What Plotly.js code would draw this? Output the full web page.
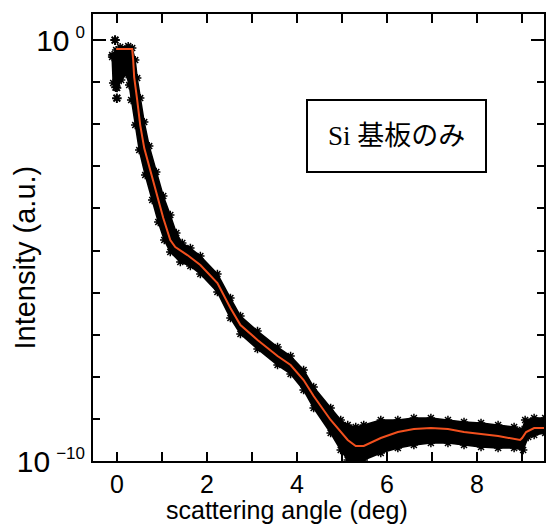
<!DOCTYPE html>
<html>
<head>
<meta charset="utf-8">
<script src="https://cdn.plot.ly/plotly-3.0.1.min.js"></script>
<style>html,body{margin:0;padding:0;background:#fff;}</style>
</head>
<body>
<div id="chart" style="width:547px;height:524px;"></div>
<script>
// Measured data band (upper / lower extent of the asterisk cloud), log10(intensity)
const bandUpperAngle = [-0.105,-0.016,0.073,0.252,0.341,0.408,0.452,0.519,0.608,0.719,0.875,1.031,1.187,1.321,1.454,1.633,1.855,2.234,2.523,2.746,3.125,3.570,3.860,4.149,4.372,4.750,4.973,5.129,5.307,5.485,5.864,6.243,6.599,6.977,7.356,7.713,8.091,8.470,8.826,9.004,9.071,9.271,9.516];
const bandUpperLog = [-0.356,-0.238,-0.166,-0.143,-0.190,-0.475,-0.903,-1.378,-1.948,-2.518,-3.135,-3.705,-4.157,-4.584,-4.822,-4.941,-5.131,-5.558,-6.128,-6.556,-6.912,-7.292,-7.506,-7.838,-8.242,-8.741,-9.026,-9.145,-9.192,-9.145,-9.026,-9.026,-8.979,-8.979,-9.026,-9.074,-9.097,-9.145,-9.192,-9.264,-9.026,-8.979,-8.979];
const bandLowerAngle = [-0.105,-0.082,0.007,0.096,0.207,0.274,0.318,0.408,0.497,0.630,0.786,0.920,1.053,1.187,1.410,1.633,1.855,2.234,2.523,2.746,3.125,3.570,3.860,4.149,4.372,4.750,4.973,5.129,5.307,5.485,5.864,6.243,6.599,6.977,7.356,7.713,8.091,8.470,8.826,9.027,9.138,9.271,9.516];
const bandLowerLog = [-0.404,-1.021,-1.140,-0.950,-0.808,-1.069,-1.425,-2.019,-2.613,-3.207,-3.800,-4.323,-4.751,-5.036,-5.273,-5.368,-5.558,-5.986,-6.603,-6.983,-7.340,-7.720,-7.933,-8.314,-8.741,-9.335,-9.739,-9.976,-10.095,-9.976,-9.810,-9.691,-9.620,-9.572,-9.572,-9.620,-9.667,-9.691,-9.691,-9.739,-9.430,-9.382,-9.335];
// isolated measured points near 0 deg
const strayAngle = [-0.04,-0.02,0.0];
const strayLog = [0.0,-1.12,-1.38];
// fitted curve
const fitAngle = [-0.016,0.341,0.363,0.385,0.452,0.519,0.608,0.742,0.898,1.031,1.187,1.298,1.566,1.855,2.234,2.523,2.746,3.125,3.570,3.860,4.149,4.372,4.750,5.129,5.307,5.485,5.864,6.243,6.599,6.977,7.356,7.713,8.091,8.470,8.960,9.004,9.093,9.271,9.516];
const fitLog = [-0.214,-0.214,-0.475,-0.879,-1.425,-2.019,-2.565,-3.088,-3.682,-4.228,-4.751,-4.917,-5.107,-5.344,-5.772,-6.366,-6.770,-7.126,-7.506,-7.720,-8.076,-8.456,-9.026,-9.501,-9.644,-9.644,-9.454,-9.311,-9.240,-9.216,-9.240,-9.311,-9.359,-9.406,-9.501,-9.454,-9.311,-9.216,-9.216];
// axis ticks
const xTickVals = [0,2,4,6,8];
const xMinorVals = [1,3,5,7,9];
const yMajorExp = [0,-10];
const yMinorExp = [-1,-2,-3,-4,-5,-6,-7,-8,-9];
const xTitle = 'scattering angle (deg)';
const yTitle = 'Intensity (a.u.)';
const labelText = 'Si 基板のみ';

const p10 = a => a.map(v => Math.pow(10, v));

const polyX = bandUpperAngle.concat(bandLowerAngle.slice().reverse());
const polyY = p10(bandUpperLog.concat(bandLowerLog.slice().reverse()));

const star = (s, w) => ({symbol:'asterisk-open', size:s, color:'#000', line:{color:'#000', width:w}});
const traces = [
  {x: polyX, y: polyY, type:'scatter', mode:'lines', fill:'toself',
   fillcolor:'#000', line:{color:'#000', width:1.5}, hoverinfo:'skip'},
  {x: bandUpperAngle, y: p10(bandUpperLog), type:'scatter', mode:'markers', marker:star(7,1.5)},
  {x: bandLowerAngle, y: p10(bandLowerLog), type:'scatter', mode:'markers', marker:star(7,1.5)},
  {x: strayAngle, y: p10(strayLog), type:'scatter', mode:'markers', marker:star(8,2)},
  {x: fitAngle, y: p10(fitLog), type:'scatter', mode:'lines',
   line:{color:'#f2501e', width:2}}
];

const fontFam = 'Liberation Sans, Arial, sans-serif';
const supText = e => '10\u2009<sup><span style="font-size:17px">' + (e < 0 ? '\u2212' + (-e) : String(e)) + '</span></sup>';
const layout = {
  width:547, height:524,
  margin:{l:93, r:3, t:14, b:63},
  paper_bgcolor:'#fff', plot_bgcolor:'#fff',
  showlegend:false,
  xaxis:{
    range:[-0.53, 9.49], showgrid:false, zeroline:false,
    showline:true, linecolor:'#000', linewidth:2, mirror:'ticks',
    ticks:'inside', ticklen:9, tickwidth:2, tickcolor:'#000',
    tickmode:'array', tickvals:xTickVals,
    minor:{tickmode:'array', tickvals:xMinorVals, ticks:'inside', ticklen:9, tickwidth:2, tickcolor:'#000', showgrid:false},
    tickfont:{family:fontFam, size:25, color:'#000'}
  },
  yaxis:{
    type:'log', range:[-10, 0.62], showgrid:false, zeroline:false,
    showline:true, linecolor:'#000', linewidth:2, mirror:'ticks',
    ticks:'inside', ticklen:13, tickwidth:2, tickcolor:'#000',
    tickmode:'array', tickvals:p10(yMajorExp),
    ticktext:yMajorExp.map(supText),
    tickfont:{family:fontFam, size:30, color:'#000'},
    minor:{tickmode:'array', tickvals:p10(yMinorExp), ticks:'inside', ticklen:7, tickwidth:2, tickcolor:'#000', showgrid:false}
  },
  annotations:[
    {xref:'paper', yref:'paper', x:0.672, y:0.726, xanchor:'center', yanchor:'middle',
     text:labelText, showarrow:false,
     font:{family:'Liberation Serif, Noto Sans CJK JP, serif', size:27, color:'#000'},
     bordercolor:'#000', borderwidth:2, borderpad:20, bgcolor:'#fff'},
    {xref:'paper', yref:'paper', x:0.430, y:-0.110, xanchor:'center', yanchor:'middle',
     text:xTitle, showarrow:false, font:{family:fontFam, size:25, color:'#000'}},
    {xref:'paper', yref:'paper', x:-0.151, y:0.455, xanchor:'center', yanchor:'middle',
     text:yTitle, textangle:-90, showarrow:false, font:{family:fontFam, size:29, color:'#000'}}
  ]
};

Plotly.newPlot('chart', traces, layout, {staticPlot:true, displayModeBar:false});
</script>
</body>
</html>
